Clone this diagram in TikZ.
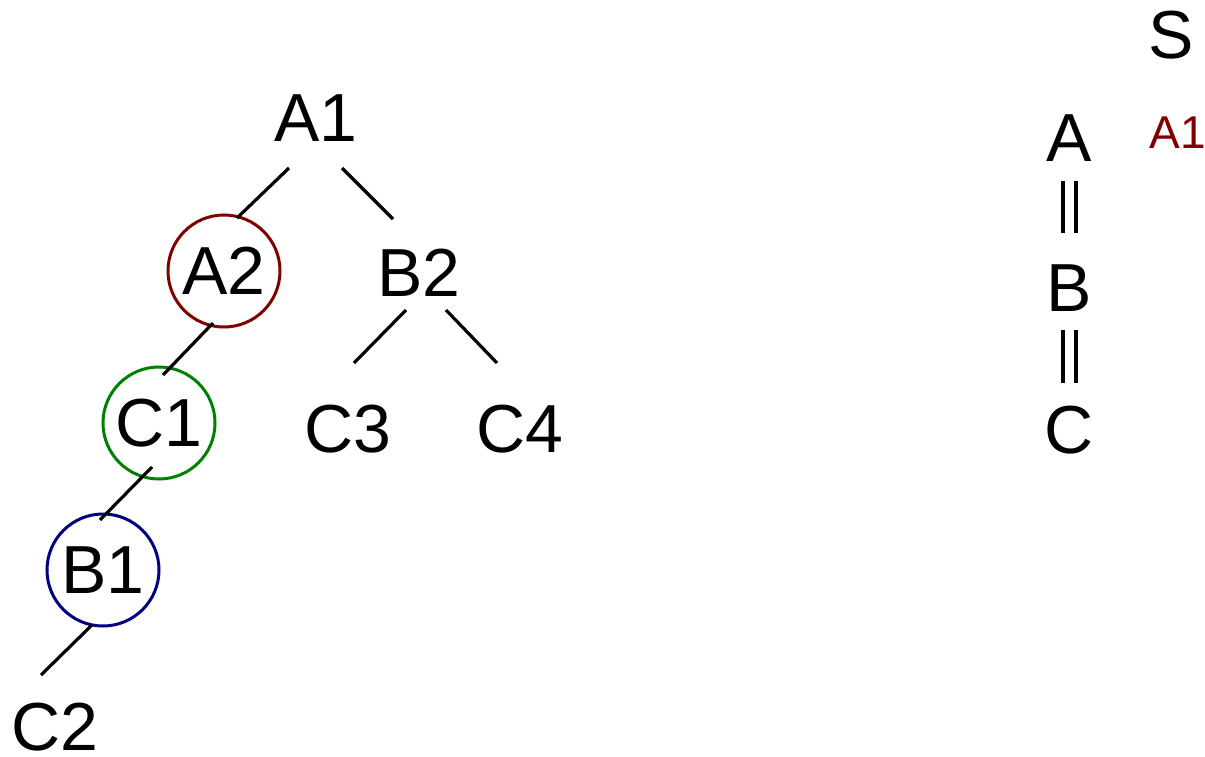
\documentclass[tikz,border=0pt]{standalone}
\usepackage{fontspec}
\setmainfont{Liberation Sans}
\usetikzlibrary{calc}
\definecolor{cred}{RGB}{128,0,0}
\definecolor{cgreen}{RGB}{0,128,0}
\definecolor{cblue}{RGB}{0,0,128}
\begin{document}
\begin{tikzpicture}[x=1pt,y=-1pt,
  lbl/.style={inner sep=0pt, font=\fontsize{68}{75}\selectfont},
  small/.style={inner sep=0pt, font=\fontsize{46}{52}\selectfont, text=cred},
  ring/.style={circle, draw=#1, line width=3pt, minimum size=112pt, inner sep=0pt, font=\fontsize{68}{75}\selectfont},
  edge/.style={line width=3.2pt, black},
  bar/.style={line width=4pt, black}]
\useasboundingbox (0,0) rectangle (1205,757);
% tree
\node[lbl] (A1) at (316,118) {A1};
\node[ring=cred] (A2) at (224,271) {A2};
\node[lbl] (B2) at (419,273) {B2};
\node[ring=cgreen] (C1) at (159,423) {C1};
\node[lbl] (C3) at (348,429) {C3};
\node[lbl] (C4) at (520,429) {C4};
\node[ring=cblue] (B1) at (103,570) {B1};
\node[lbl] (C2) at (55,727) {C2};
\draw[edge] ($(A1)+(-27,50)$) -- ($(A2)+(13,-53)$);
\draw[edge] ($(A1)+(26,50)$) -- ($(B2)+(-26,-54)$);
\draw[edge] ($(A2)+(-11,52)$) -- ($(C1)+(4,-48)$);
\draw[edge] ($(B2)+(-13,37)$) -- ($(C3)+(6,-66)$);
\draw[edge] ($(B2)+(27,37)$) -- ($(C4)+(-23,-66)$);
\draw[edge] ($(C1)+(-7,44)$) -- ($(B1)+(-3,-50)$);
\draw[edge] ($(B1)+(-11,55)$) -- ($(C2)+(-14,-52)$);
% right column
\node[lbl] (S) at (1171,35) {S};
\node[lbl] (A) at (1069,138) {A};
\node[lbl] (B) at (1069,288) {B};
\node[lbl] (C) at (1069,430) {C};
\node[small] (R) at (1178,133) {A1};
\draw[bar] ($(A)+(-6.5,43)$) -- ($(B)+(-6.5,-55)$);
\draw[bar] ($(A)+(6.5,43)$) -- ($(B)+(6.5,-55)$);
\draw[bar] ($(B)+(-6.5,42)$) -- ($(C)+(-6.5,-47)$);
\draw[bar] ($(B)+(6.5,42)$) -- ($(C)+(6.5,-47)$);
\end{tikzpicture}
\end{document}
